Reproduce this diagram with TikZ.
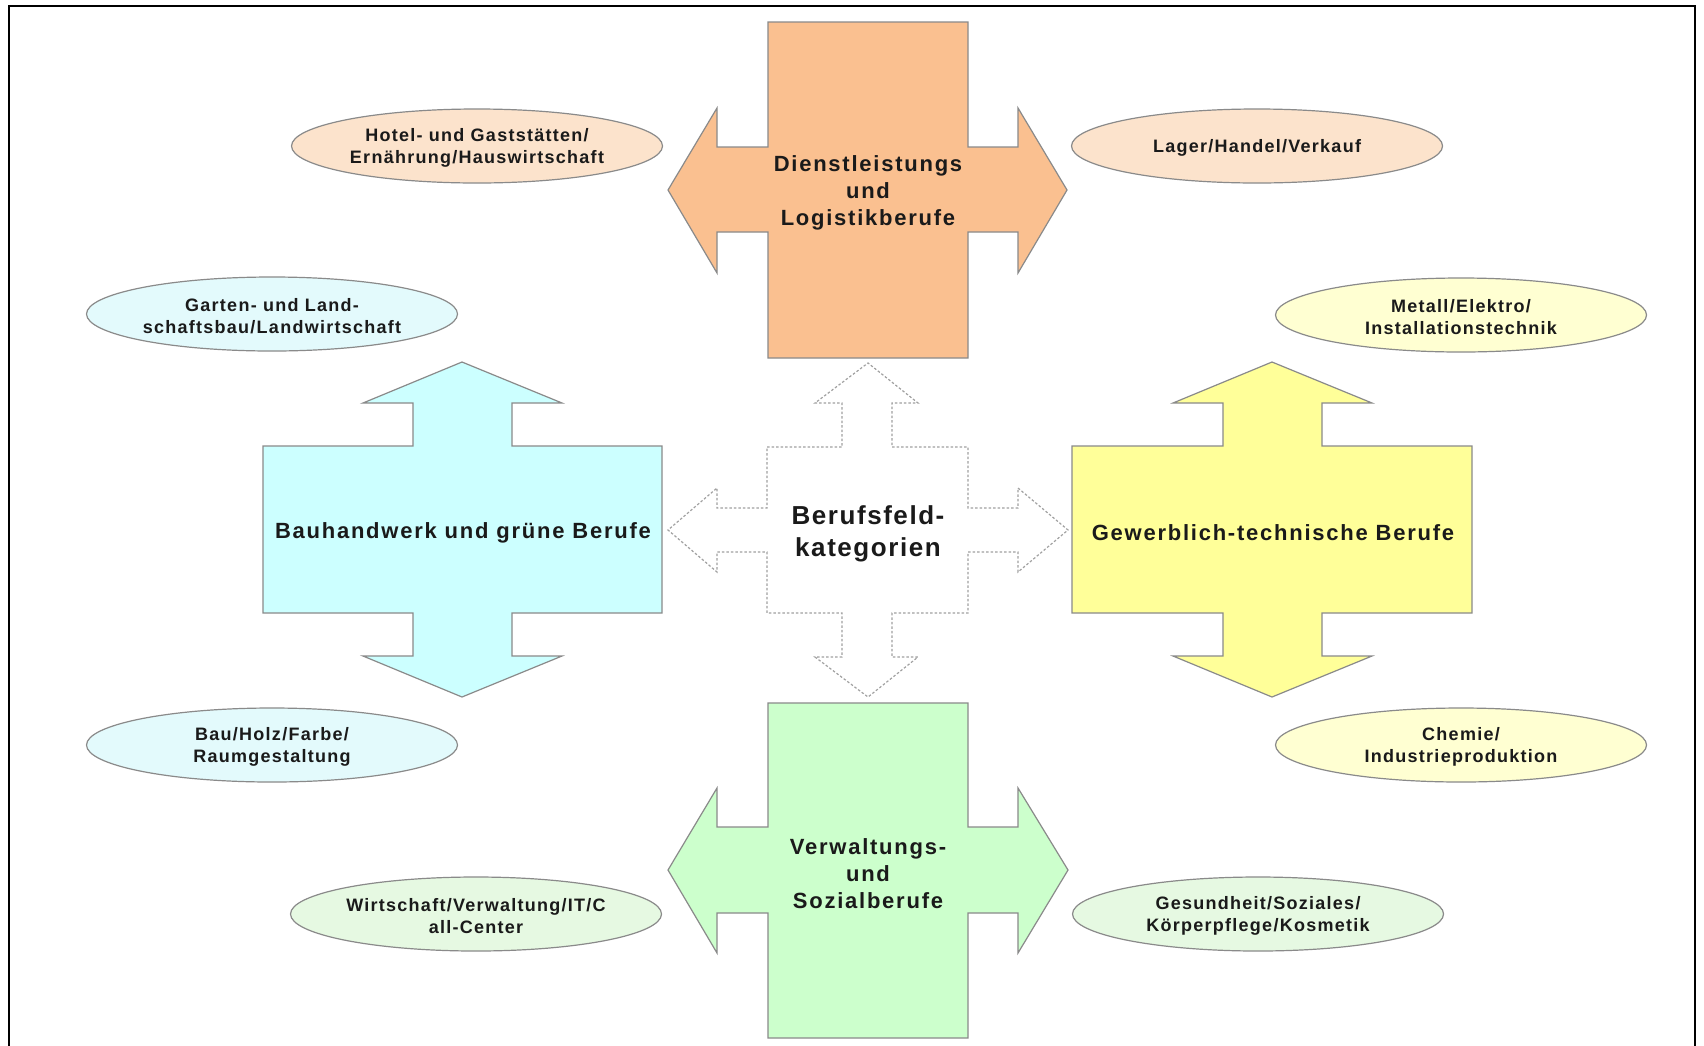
\documentclass[tikz,border=0pt]{standalone}
\usepackage{fontspec}
\setmainfont{Liberation Sans}
\newfontfamily\bigfont[LetterSpace=8]{Liberation Sans}
\newfontfamily\centfont[LetterSpace=6]{Liberation Sans}
\newfontfamily\smallfont[LetterSpace=7]{Liberation Sans}
\usetikzlibrary{shapes.geometric}
\definecolor{orangeF}{HTML}{FAC090}
\definecolor{blueF}{HTML}{CCFFFF}
\definecolor{yellowF}{HTML}{FFFF99}
\definecolor{greenF}{HTML}{CCFFCC}
\definecolor{orangeE}{HTML}{FCE3CC}
\definecolor{blueE}{HTML}{E3FAFC}
\definecolor{yellowE}{HTML}{FFFFD2}
\definecolor{greenE}{HTML}{E6F9E2}
\definecolor{edgeG}{HTML}{8A8A8A}
\definecolor{txt}{HTML}{1A1A1A}
\tikzset{
  crossshape/.style={draw=edgeG, line width=1.2pt, line join=miter},
  dashcross/.style={draw=edgeG!80, line width=1.2pt, dash pattern=on 2.5pt off 2pt},
  bigtext/.style={font=\bigfont\fontsize{22}{27}\selectfont\bfseries, text=txt, align=center, inner sep=0pt, yshift=-3pt},
  centertext/.style={font=\centfont\fontsize{26}{32}\selectfont\bfseries, text=txt, align=center, inner sep=0pt, yshift=-3pt},
  smalltext/.style={font=\smallfont\fontsize{18}{22}\selectfont\bfseries, text=txt, align=center, inner sep=0pt, yshift=-2pt},
  oval/.style={ellipse, draw=edgeG, line width=1.2pt, minimum width=371pt, minimum height=74pt, inner sep=0pt}
}
\begin{document}
\begin{tikzpicture}[x=1pt,y=-1pt]
\useasboundingbox (0,0) rectangle (1704,1045);
\fill[white] (0,0) rectangle (1704,1045);
% frame
\draw[black, line width=1.5pt] (9,1050) -- (9,6) -- (1695,6) -- (1695,1050);

% top orange cross
\path[crossshape, fill=orangeF] (768,22) -- (968,22) -- (968,147) -- (1018,147) -- (1018,108) -- (1067,190) -- (1018,273) -- (1018,232) -- (968,232) -- (968,358) -- (768,358) -- (768,232) -- (717,232) -- (717,273) -- (668,190) -- (717,108) -- (717,147) -- (768,147) -- cycle;
% bottom green cross
\path[crossshape, fill=greenF] (768,703) -- (968,703) -- (968,827) -- (1018,827) -- (1018,788) -- (1068,870) -- (1018,953) -- (1018,913) -- (968,913) -- (968,1038) -- (768,1038) -- (768,913) -- (717,913) -- (717,953) -- (668,870) -- (717,788) -- (717,827) -- (768,827) -- cycle;
% left blue cross
\path[crossshape, fill=blueF] (263,446) -- (413,446) -- (413,403) -- (363,403) -- (462,362) -- (562,403) -- (512,403) -- (512,446) -- (662,446) -- (662,613) -- (512,613) -- (512,656) -- (562,656) -- (462,697) -- (363,656) -- (413,656) -- (413,613) -- (263,613) -- cycle;
% right yellow cross
\path[crossshape, fill=yellowF] (1072,446) -- (1223,446) -- (1223,403) -- (1173,403) -- (1272,362) -- (1372,403) -- (1322,403) -- (1322,446) -- (1472,446) -- (1472,613) -- (1322,613) -- (1322,656) -- (1372,656) -- (1272,697) -- (1173,656) -- (1223,656) -- (1223,613) -- (1072,613) -- cycle;
% center dashed cross
\path[dashcross, fill=white] (767,447) -- (842,447) -- (842,403) -- (815,403) -- (868,363) -- (918,403) -- (892,403) -- (892,447) -- (968,447) -- (968,508) -- (1018,508) -- (1018,488) -- (1068,530) -- (1018,572) -- (1018,552) -- (968,552) -- (968,613) -- (892,613) -- (892,657) -- (918,657) -- (868,697) -- (815,657) -- (842,657) -- (842,613) -- (767,613) -- (767,552) -- (717,552) -- (717,572) -- (668,530) -- (717,488) -- (717,508) -- (767,508) -- cycle;

% main labels
\node[bigtext] (dienst) at (868,190) {Dienstleistungs\\und\\Logistikberufe};
\node[bigtext] (verw) at (868,871) {Verwaltungs-\\und\\Sozialberufe};
\node[bigtext] (bau) at (463,530) {Bauhandwerk und grüne Berufe};
\node[bigtext] (gew) at (1273,530) {Gewerblich-technische Berufe};
\node[centertext] (center) at (868,531) {Berufsfeld-\\kategorien};

% ellipses
\node[oval, fill=orangeE] (hotel) at (477,146) {};
\node[smalltext] at (hotel) {Hotel- und Gaststätten/\\Ernährung/Hauswirtschaft};
\node[oval, fill=orangeE] (lager) at (1257,146) {};
\node[smalltext] at (lager) {Lager/Handel/Verkauf};
\node[oval, fill=blueE] (garten) at (272,314) {};
\node[smalltext] at (garten) {Garten- und Land-\\schaftsbau/Landwirtschaft};
\node[oval, fill=yellowE] (metall) at (1461,315) {};
\node[smalltext] at (metall) {Metall/Elektro/\\Installationstechnik};
\node[oval, fill=blueE] (holz) at (272,745) {};
\node[smalltext] at (holz) {Bau/Holz/Farbe/\\Raumgestaltung};
\node[oval, fill=yellowE] (chemie) at (1461,745) {};
\node[smalltext] at (chemie) {Chemie/\\Industrieproduktion};
\node[oval, fill=greenE] (wirt) at (476,914) {};
\node[smalltext] at (wirt) {Wirtschaft/Verwaltung/IT/C\\all-Center};
\node[oval, fill=greenE] (gesund) at (1258,914) {};
\node[smalltext] at (gesund) {Gesundheit/Soziales/\\Körperpflege/Kosmetik};
\end{tikzpicture}
\end{document}
